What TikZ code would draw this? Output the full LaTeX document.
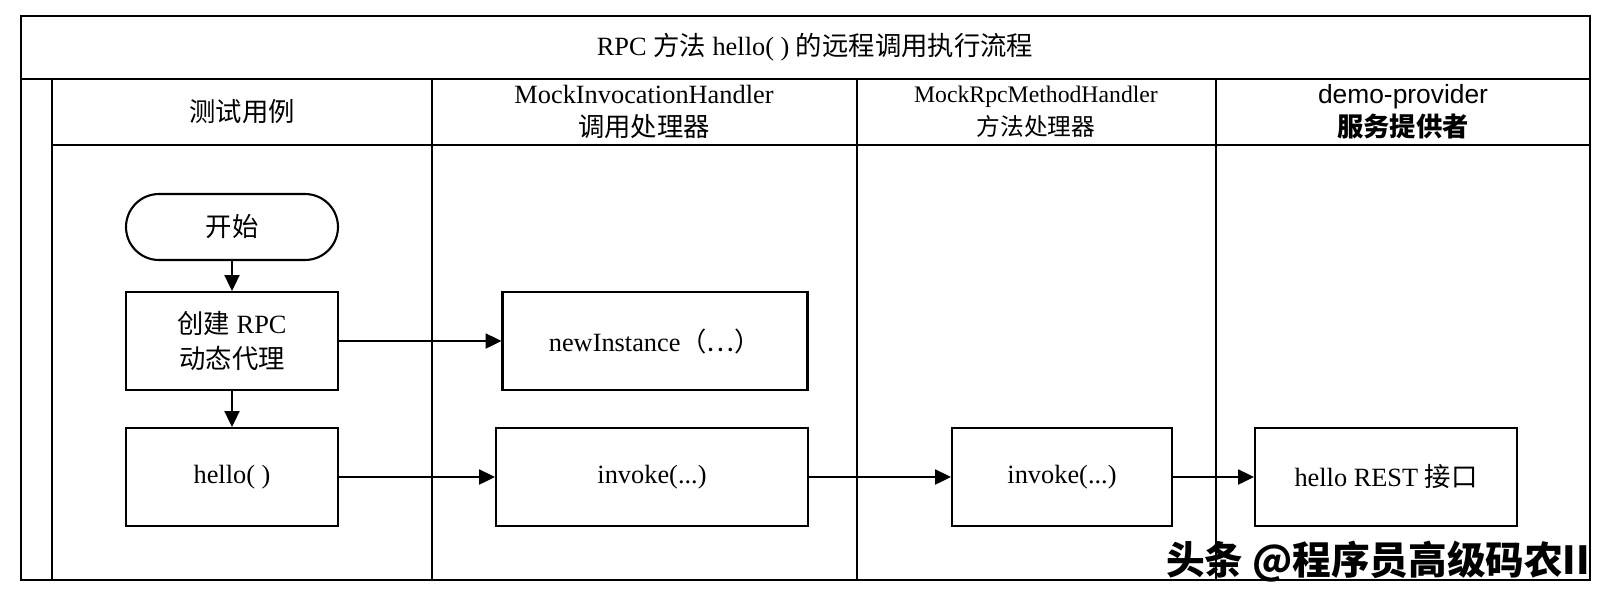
\documentclass[tikz,border=0pt]{standalone}
\usepackage{fontspec}
\setmainfont{Liberation Serif}
\newfontfamily\cjk{Noto Sans CJK SC}
\newfontfamily\sans{Liberation Sans}
\usepackage{tikz}
\usetikzlibrary{arrows.meta}

\begin{document}
\begin{tikzpicture}[x=0.02cm,y=-0.02cm,
    lane/.style={line width=1.1pt},
    head/.style={align=center,font=\fontsize{15}{19}\selectfont},
    box/.style={draw,line width=1.2pt,minimum height=1.96cm,align=center,font=\fontsize{15}{20}\selectfont},
    term/.style={box,minimum height=1.32cm,rounded corners=0.66cm},
    flow/.style={-{Triangle[length=9pt,width=8.5pt]},line width=1.2pt}]
    \useasboundingbox (0,0) rectangle (1618,602);

    % swimlanes
    \draw[lane] (21,16) rectangle (1590,580);
    \draw[lane] (21,79) -- (1590,79);
    \draw[lane] (52,79) -- (52,580);
    \draw[lane] (52,145) -- (1590,145);
    \foreach \x in {432,857,1216}{\draw[lane] (\x,79) -- (\x,580);}

    \node[head] (title) at (815,47) {RPC {\cjk 方法} hello( ) {\cjk 的远程调用执行流程}};
    \node[head] (laneA) at (242,112) {{\cjk 测试用例}};
    \node[head] (laneB) at (644,112) {MockInvocationHandler\\{\cjk 调用处理器}};
    \node[head,font=\fontsize{13.5}{19}\selectfont] (laneC) at (1036,112) {MockRpcMethodHandler\\{\cjk 方法处理器}};
    \node[head] (laneD) at (1403,112) {{\sans demo-provider}\\{\cjk\bfseries 服务提供者}};

    \node[term,minimum width=4.24cm] (start) at (232,227) {{\cjk 开始}};
    \node[box,minimum width=4.24cm] (proxy) at (232,341) {{\cjk 创建} RPC\\{\cjk 动态代理}};
    \node[box,minimum width=4.24cm] (hello) at (232,477) {hello( )};
    \node[box,minimum width=6.1cm] (newinst) at (655,341) {newInstance{\cjk （…）}};
    \node[box,minimum width=6.24cm] (invokeA) at (652,477) {invoke(...)};
    \node[box,minimum width=4.4cm] (invokeB) at (1062,477) {invoke(...)};
    \node[box,minimum width=5.24cm] (rest) at (1386,477) {hello REST {\cjk 接口}};

    \draw[flow] (start) -- (proxy);
    \draw[flow] (proxy) -- (hello);
    \draw[flow] (proxy) -- (newinst);
    \draw[flow] (hello) -- (invokeA);
    \draw[flow] (invokeA) -- (invokeB);
    \draw[flow] (invokeB) -- (rest);

    \node[font=\cjk\bfseries\fontsize{22}{22}\selectfont] (mark) at (1378,562) {头条 @程序员高级码农II};
  \end{tikzpicture}
\end{document}
